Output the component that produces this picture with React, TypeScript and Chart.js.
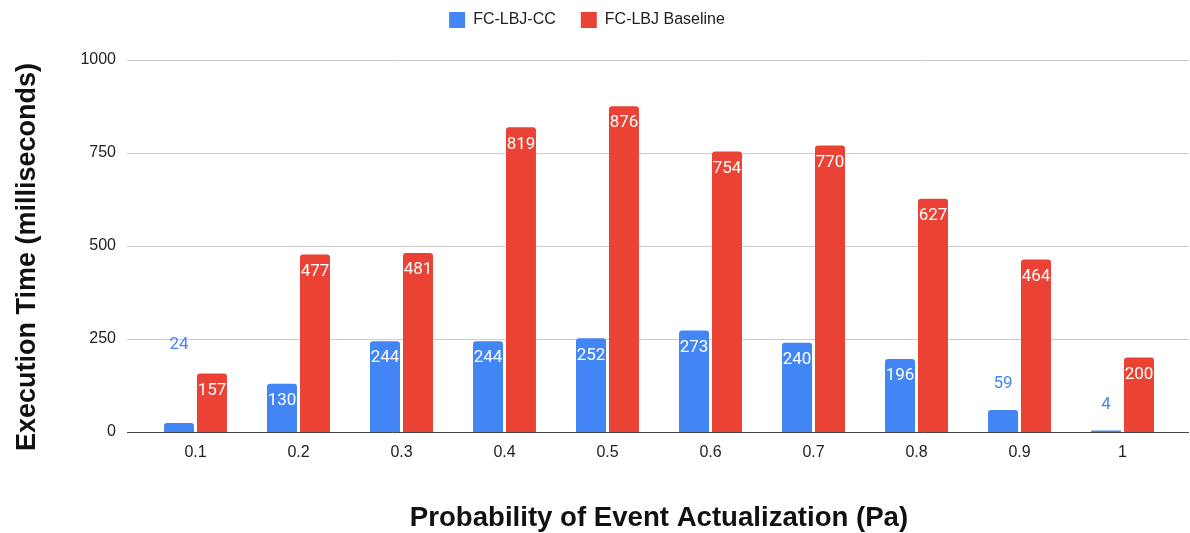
import React, { useEffect, useRef } from "react";
import { Chart, registerables } from "chart.js";

Chart.register(...registerables);

const categories = ["0.1", "0.2", "0.3", "0.4", "0.5", "0.6", "0.7", "0.8", "0.9", "1"];
const ccValues = [24, 130, 244, 244, 252, 273, 240, 196, 59, 4];
const baselineValues = [157, 477, 481, 819, 876, 754, 770, 627, 464, 200];
const yTickValues = [0, 250, 500, 750, 1000];
const seriesNames = ["FC-LBJ-CC", "FC-LBJ Baseline"];
const seriesColors = ["#4285F4", "#EA4335"];
const yTitle = "Execution Time (milliseconds)";
const xTitle = "Probability of Event Actualization (Pa)";

const SANS = "'Liberation Sans', Arial, sans-serif";
const ROBOTO = "Roboto, 'Liberation Sans', Arial, sans-serif";

const legendSpacer = {
  id: "legendSpacer",
  beforeInit(chart: any) {
    const legend = chart.legend;
    if (!legend) return;
    const origFit = legend.fit;
    legend.fit = function () {
      origFit.call(this);
      this.height += 22;
    };
  },
};

const gridPlugin = {
  id: "gridExt",
  beforeDatasetsDraw(chart: any) {
    const { ctx, chartArea, scales } = chart;
    const y = scales.y;
    const x0 = chartArea.left - 17;
    const x1 = chart.width - 1;
    ctx.save();
    ctx.lineWidth = 1;
    ctx.strokeStyle = "#cccccc";
    y.ticks.forEach((t: any) => {
      if (t.value === 0) return;
      const py = Math.round(y.getPixelForValue(t.value)) + 0.5;
      ctx.beginPath();
      ctx.moveTo(x0, py);
      ctx.lineTo(x1, py);
      ctx.stroke();
    });
    ctx.restore();
  },
  afterDatasetsDraw(chart: any) {
    const { ctx, chartArea, scales } = chart;
    const y = scales.y;
    const x0 = chartArea.left - 17;
    const x1 = chart.width - 1;
    const py = Math.round(y.getPixelForValue(0)) + 0.5;
    ctx.save();
    ctx.lineWidth = 1;
    ctx.strokeStyle = "#444444";
    ctx.beginPath();
    ctx.moveTo(x0, py);
    ctx.lineTo(x1, py);
    ctx.stroke();
    ctx.restore();
  },
};

const labelPlugin = {
  id: "barLabels",
  afterDatasetsDraw(chart: any) {
    const ctx = chart.ctx;
    ctx.save();
    ctx.font = `17px ${ROBOTO}`;
    ctx.textAlign = "center";
    ctx.textBaseline = "middle";
    const metas = chart.data.datasets.map((_: any, i: number) => chart.getDatasetMeta(i));
    const items: any[] = [];
    metas.forEach((meta: any, di: number) => {
      meta.data.forEach((bar: any, i: number) => {
        const p = bar.getProps(["x", "y", "base"], true);
        const v = chart.data.datasets[di].data[i];
        const text = String(v);
        const h = p.base - p.y;
        const inside = h >= 34;
        items.push({
          di,
          i,
          x: p.x,
          barTop: p.y,
          text,
          inside,
          ly: inside ? p.y + 17 : p.y - 26,
          w: ctx.measureText(text).width,
          color: inside ? "#ffffff" : chart.data.datasets[di].backgroundColor,
        });
      });
    });
    items.forEach((it) => {
      if (it.inside) return;
      items.forEach((o) => {
        if (o === it || o.i !== it.i) return;
        if (Math.abs(o.ly - it.ly) < 18 && Math.abs(o.x - it.x) < (o.w + it.w) / 2 + 14) {
          it.ly = Math.min(it.ly, o.barTop - 29);
        }
      });
    });
    items.forEach((it) => {
      ctx.fillStyle = it.color;
      ctx.fillText(it.text, it.x, it.ly);
    });
    ctx.restore();
  },
};

const yTitlePlugin = {
  id: "yTitle",
  afterDraw(chart: any) {
    const { ctx, chartArea } = chart;
    ctx.save();
    ctx.font = `bold 27px ${SANS}`;
    ctx.fillStyle = "#111111";
    ctx.textAlign = "center";
    ctx.textBaseline = "middle";
    ctx.translate(28, (chartArea.top + chartArea.bottom) / 2 + 11);
    ctx.rotate(-Math.PI / 2);
    ctx.fillText(yTitle, 0, 0);
    ctx.restore();
  },
};

export default function App() {
  const canvasRef = useRef<HTMLCanvasElement | null>(null);

  useEffect(() => {
    document.body.style.margin = "0";
    const canvas = canvasRef.current;
    if (!canvas) return;
    const chart = new Chart(canvas, {
      type: "bar",
      data: {
        labels: categories,
        datasets: [
          {
            label: seriesNames[0],
            data: ccValues,
            backgroundColor: seriesColors[0],
            borderRadius: 3,
            borderSkipped: "start",
          },
          {
            label: seriesNames[1],
            data: baselineValues,
            backgroundColor: seriesColors[1],
            borderRadius: 3,
            borderSkipped: "start",
          },
        ],
      },
      options: {
        responsive: false,
        animation: false,
        layout: { padding: { top: -13, right: 16, bottom: 0, left: 0 } },
        datasets: {
          bar: { categoryPercentage: 0.64, barPercentage: 0.91 },
        },
        plugins: {
          legend: {
            position: "top",
            align: "center",
            labels: {
              boxWidth: 16,
              boxHeight: 16,
              padding: 25,
              color: "#222222",
              font: { family: SANS, size: 16 },
            },
          },
          tooltip: { enabled: false },
        },
        scales: {
          x: {
            grid: { display: false, drawTicks: false },
            border: { display: false },
            ticks: {
              color: "#222222",
              padding: 11,
              font: { family: SANS, size: 16 },
            },
            title: {
              display: true,
              text: xTitle,
              color: "#111111",
              padding: { top: 0, bottom: -2 },
              font: { family: SANS, size: 27.6, weight: "bold" },
            },
            afterFit(scale: any) {
              scale.height = 101;
            },
          },
          y: {
            min: 0,
            max: 1000,
            grid: { display: false, drawTicks: false },
            border: { display: false },
            afterBuildTicks(scale: any) {
              scale.ticks = yTickValues.map((v) => ({ value: v }));
            },
            ticks: {
              color: "#222222",
              padding: 28,
              font: { family: SANS, size: 16 },
              callback: (v: any) => String(v),
            },
            afterFit(scale: any) {
              scale.width = 144;
            },
          },
        },
      },
      plugins: [legendSpacer, gridPlugin, labelPlugin, yTitlePlugin],
    } as any);
    return () => chart.destroy();
  }, []);

  return (
    <div style={{ width: 1190, height: 533 }}>
      <canvas ref={canvasRef} width={1190} height={533} style={{ display: "block" }} />
    </div>
  );
}
